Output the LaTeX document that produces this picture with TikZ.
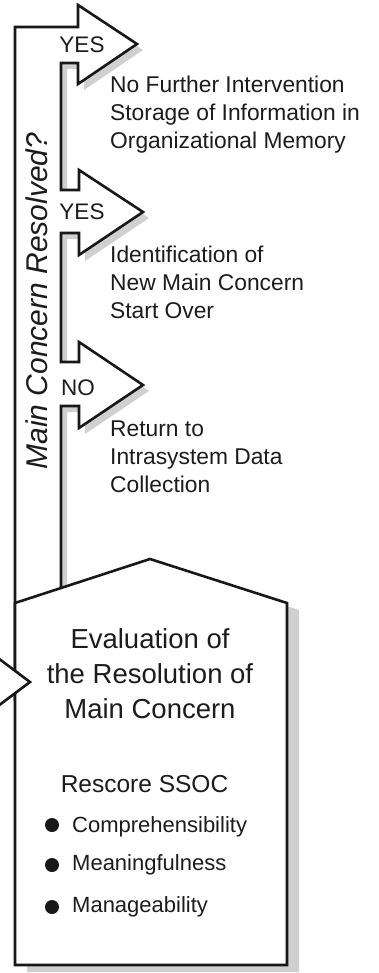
\documentclass[tikz,border=0pt]{standalone}
\usepackage{fontspec}
\setmainfont{Liberation Sans}
\definecolor{linec}{RGB}{24,24,24}
\definecolor{textc}{RGB}{28,28,28}
\definecolor{shadowc}{RGB}{208,208,208}
\tikzset{
  outline/.style={draw=linec, line width=2.6pt, line join=miter, fill=white},
  lbl/.style={text=textc, inner sep=0pt},
  spinepath/.style={insert path={(15,700) -- (15,27) -- (78,27) -- (78,5) -- (137,44) -- (78,84) -- (78,63) -- (61,63) -- (61,190) -- (79,190) -- (79,170) -- (143,212) -- (79,255) -- (79,233) -- (61,233) -- (61,362) -- (79,362) -- (79,342) -- (143,385) -- (79,428) -- (79,406) -- (61,406) -- (61,700) -- cycle}},
  pentpath/.style={insert path={(15,603) -- (150,559) -- (287,603) -- (287,965) -- (15,965) -- cycle}},
}
\begin{document}
\begin{tikzpicture}[x=1pt,y=-1pt]
\useasboundingbox (0,0) rectangle (379,973);
\clip (0,0) rectangle (379,973);
% shadows
\begin{scope}[shift={(12,7)}]
  \fill[shadowc, pentpath];
\end{scope}
\begin{scope}[shift={(6,6)}]
  \fill[shadowc, spinepath];
\end{scope}
% spine with arrows
\path[outline, spinepath];
% evaluation box
\path[outline, pentpath];
% incoming arrow at left
\filldraw[fill=white, draw=linec, line width=2.6pt, line join=miter] (-6,655) -- (30,682) -- (-6,709);
% labels in arrows
\node[lbl, font=\fontsize{22.5}{26}\selectfont] (yes1) at (82,45) {YES};
\node[lbl, font=\fontsize{22.5}{26}\selectfont] (yes2) at (82,212) {YES};
\node[lbl, font=\fontsize{22.5}{26}\selectfont] (no) at (78,388) {NO};
% outcomes
\node[lbl, anchor=north west, align=left, font=\fontsize{22.8}{28}\selectfont] (out1) at (110,75.5) {No Further Intervention\\Storage of Information in\\Organizational Memory};
\node[lbl, anchor=north west, align=left, font=\fontsize{22.8}{28}\selectfont] (out2) at (110,245.5) {Identification of\\New Main Concern\\Start Over};
\node[lbl, anchor=north west, align=left, font=\fontsize{22.8}{28}\selectfont] (out3) at (110,421) {Return to\\Intrasystem Data\\Collection};
% question
\node[lbl, rotate=90, anchor=base, font=\fontsize{30}{34}\selectfont\itshape] (question) at (47,301) {Main Concern Resolved?};
% evaluation text
\node[lbl, anchor=north, align=center, font=\fontsize{27.5}{35}\selectfont] (eval) at (150,628) {Evaluation of\\the Resolution of\\Main Concern};
\node[lbl, anchor=base, font=\fontsize{24.5}{29}\selectfont] (rescore) at (144.5,792) {Rescore SSOC};
\fill[linec] (52,825) circle (7pt);
\fill[linec] (52,865) circle (7pt);
\fill[linec] (52,907) circle (7pt);
\node[lbl, anchor=base west, font=\fontsize{22}{26}\selectfont] (item1) at (72,832) {Comprehensibility};
\node[lbl, anchor=base west, font=\fontsize{22}{26}\selectfont] (item2) at (72,870) {Meaningfulness};
\node[lbl, anchor=base west, font=\fontsize{22}{26}\selectfont] (item3) at (72,912) {Manageability};
\end{tikzpicture}
\end{document}
